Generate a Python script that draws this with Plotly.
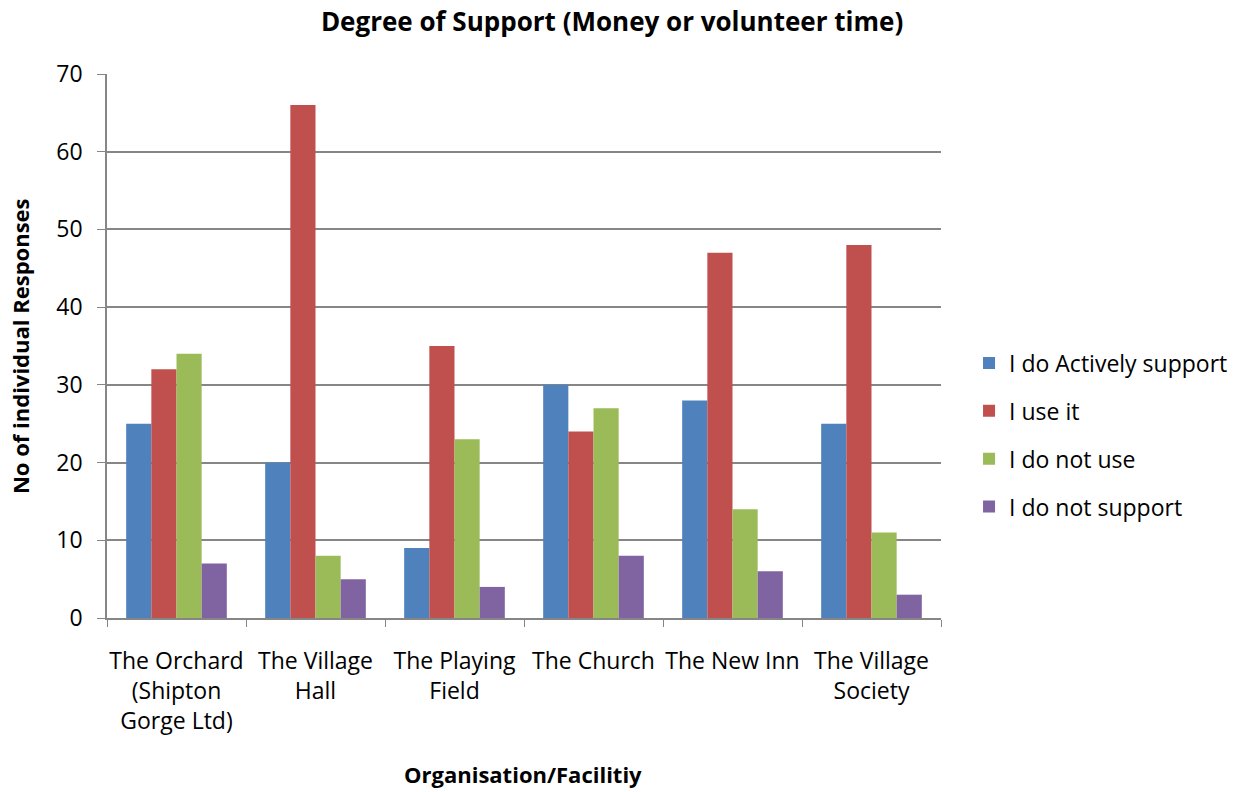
import plotly.graph_objects as go

categories = ["The Orchard<br>(Shipton<br>Gorge Ltd)", "The Village<br>Hall", "The Playing<br>Field",
              "The Church", "The New Inn", "The Village<br>Society"]
series_names = ["I do Actively support", "I use it", "I do not use", "I do not support"]
actively_support = [25, 20, 9, 30, 28, 25]
use_it = [32, 66, 35, 24, 47, 48]
do_not_use = [34, 8, 23, 27, 14, 11]
do_not_support = [7, 5, 4, 8, 6, 3]
colors = ["#4F81BD", "#C0504D", "#9BBB59", "#8064A2"]

values = [actively_support, use_it, do_not_use, do_not_support]
FONT = "Open Sans"

fig = go.Figure()
for i, (name, vals) in enumerate(zip(series_names, values)):
    fig.add_trace(go.Bar(x=categories, y=vals, name=name, marker_color=colors[i],
                         marker_line_width=0, legendgroup=str(i)))

fig.update_layout(
    width=1243, height=792,
    margin=dict(l=107, r=302, t=74, b=174),
    paper_bgcolor="white", plot_bgcolor="white",
    font=dict(family=FONT, size=23, color="#000000"),
    title=dict(text="<b>Degree of Support (Money or volunteer time)</b>", x=0.4924, xanchor="center",
               y=0.9722, yanchor="middle", font=dict(size=26, family=FONT)),
    barmode="group", bargap=0.276, bargroupgap=0,
    legend=dict(xref="container", yref="container", x=0.7796, y=0.4508, xanchor="left", yanchor="middle",
                font=dict(size=23, family=FONT),
                tracegroupgap=15, traceorder="grouped", itemwidth=30),
    showlegend=True,
    annotations=[
        dict(text="<b>Organisation/Facilitiy</b>", xref="paper", yref="paper", x=0.499, y=-0.2862,
             xanchor="center", yanchor="middle", showarrow=False, font=dict(size=22, family=FONT)),
        dict(text="<b>No of individual Responses</b>", xref="paper", yref="paper", x=-0.1043, y=0.5,
             xanchor="center", yanchor="middle", textangle=-90, showarrow=False, font=dict(size=22, family=FONT)),
    ],
)
fig.update_xaxes(
    showline=True, linecolor="#868686", linewidth=1.5, automargin=False, tickangle=0,
    ticks="outside", tickson="boundaries", ticklen=7, tickcolor="#868686",
    tickfont=dict(size=23, family=FONT), ticklabelstandoff=22,
)
fig.update_yaxes(
    range=[0, 70], dtick=10, showline=True, linecolor="#868686", linewidth=1.5, automargin=False,
    ticks="outside", ticklen=8, tickcolor="#868686",
    showgrid=True, gridcolor="#868686", gridwidth=1.5,
    tickfont=dict(size=23, family=FONT), ticklabelstandoff=10,
)

fig.write_html("out.html", config={"displayModeBar": False},
               post_script="document.body.style.margin='0';document.body.style.overflow='hidden';")
